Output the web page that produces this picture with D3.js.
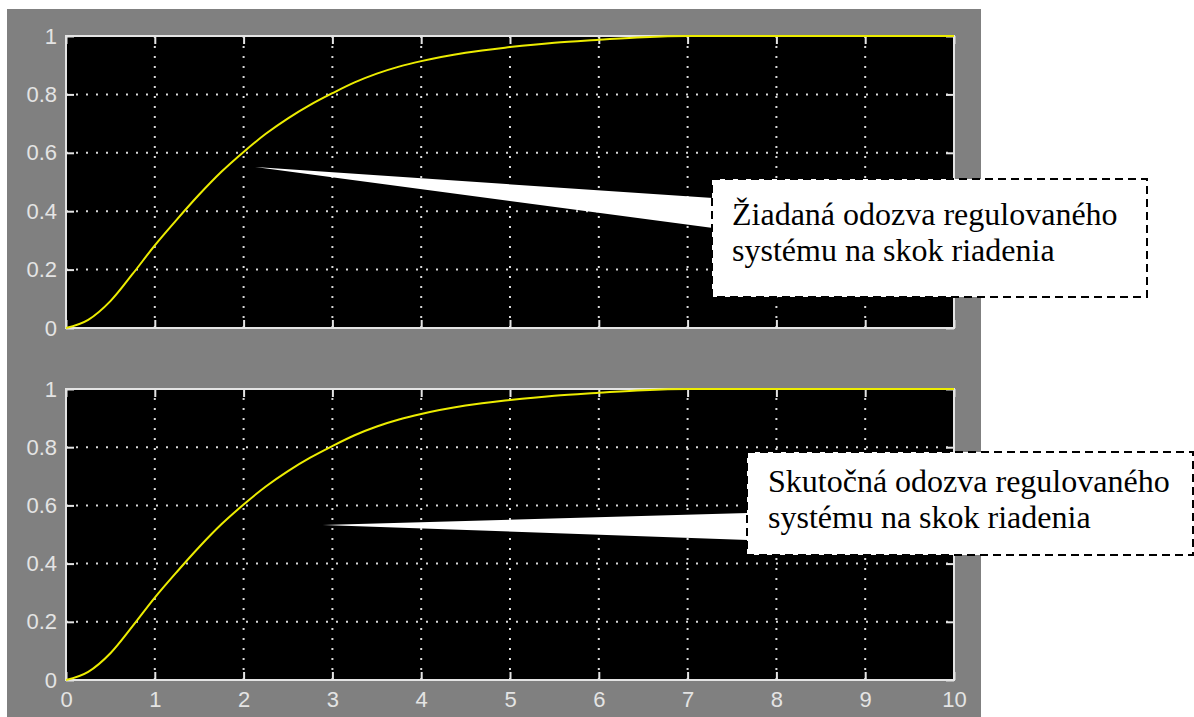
<!DOCTYPE html>
<html>
<head>
<meta charset="utf-8">
<script src="https://cdn.jsdelivr.net/npm/d3@7"></script>
<style>
  html, body { margin: 0; padding: 0; background: #ffffff; }
  svg { display: block; }
</style>
</head>
<body>
<svg id="chart" width="1194" height="717"></svg>
<script>
// Step response samples: time [s] and output value
const timeSec = [0, 0.25, 0.5, 0.75, 1, 1.25, 1.5, 1.75, 2, 2.25, 2.5, 2.75, 3, 3.25, 3.5, 3.75, 4, 4.5, 5, 5.5, 6, 6.5, 7, 8, 9, 10];
const desiredResponse = [0, 0.028, 0.092, 0.185, 0.283, 0.372, 0.457, 0.535, 0.603, 0.665, 0.718, 0.764, 0.804, 0.841, 0.871, 0.895, 0.914, 0.943, 0.962, 0.977, 0.987, 0.996, 1, 1, 1, 1];
const actualResponse  = [0, 0.028, 0.092, 0.185, 0.283, 0.372, 0.457, 0.535, 0.603, 0.665, 0.718, 0.764, 0.804, 0.841, 0.871, 0.895, 0.914, 0.943, 0.962, 0.977, 0.987, 0.996, 1, 1, 1, 1];

const xTicks = [0, 1, 2, 3, 4, 5, 6, 7, 8, 9, 10];
const xTickLabels = ["0", "1", "2", "3", "4", "5", "6", "7", "8", "9", "10"];
const yTicks = [0, 0.2, 0.4, 0.6, 0.8, 1];
const yTickLabels = ["0", "0.2", "0.4", "0.6", "0.8", "1"];

// Callout texts and the (time, value) point each pointer aims at
const desiredCallout = ["Žiadaná odozva regulovaného", "systému na skok riadenia"];
const actualCallout = ["Skutočná odozva regulovaného", "systému na skok riadenia"];
const desiredPointer = [2.13, 0.551];
const actualPointer = [2.89, 0.533];

// ---- layout ----
const svg = d3.select("#chart");
const frame = { x: 7, y: 9, w: 974, h: 708 };
const plotLeft = 66, plotRight = 954;
const panels = [
  { top: 36, bottom: 328, values: desiredResponse, showX: false,
    callout: desiredCallout, pointer: desiredPointer,
    box: { x: 712, y: 179, w: 435, h: 118 }, base: [198, 228], textX: 732, baselines: [225, 261] },
  { top: 389, bottom: 680, values: actualResponse, showX: true,
    callout: actualCallout, pointer: actualPointer,
    box: { x: 747, y: 452, w: 446, h: 103 }, base: [513, 540], textX: 768, baselines: [492, 528] }
];

const axisColor = "#e4e4e4";
const gridColor = "#d8d8d8";
const traceColor = "#ecec00";
const labelFont = "'Liberation Sans', Arial, sans-serif";

svg.append("rect")
  .attr("x", frame.x).attr("y", frame.y)
  .attr("width", frame.w).attr("height", frame.h)
  .attr("fill", "#808080");

const x = d3.scaleLinear().domain([0, 10]).range([plotLeft, plotRight]);

panels.forEach(p => {
  const y = d3.scaleLinear().domain([0, 1]).range([p.bottom, p.top]);
  const g = svg.append("g");

  // plot area
  g.append("rect")
    .attr("x", plotLeft).attr("y", p.top)
    .attr("width", plotRight - plotLeft).attr("height", p.bottom - p.top)
    .attr("fill", "#000000");

  // dotted grid
  g.append("g").selectAll("line")
    .data(xTicks.slice(1, -1)).join("line")
    .attr("x1", d => x(d)).attr("x2", d => x(d))
    .attr("y1", p.bottom).attr("y2", p.top)
    .attr("stroke", gridColor).attr("stroke-width", 2)
    .attr("stroke-dasharray", "2 8");
  g.append("g").selectAll("line")
    .data(yTicks.slice(1, -1)).join("line")
    .attr("x1", plotLeft).attr("x2", plotRight)
    .attr("y1", d => y(d)).attr("y2", d => y(d))
    .attr("stroke", gridColor).attr("stroke-width", 2)
    .attr("stroke-dasharray", "2 8");

  // inward ticks on all four sides
  const styleAxis = sel => {
    sel.select(".domain").remove();
    sel.selectAll(".tick line").attr("stroke", axisColor).attr("stroke-width", 2);
    sel.selectAll(".tick text").attr("fill", axisColor)
      .attr("font-family", labelFont).attr("font-size", 22);
  };

  const bottomAxis = d3.axisBottom(x).tickValues(xTicks)
    .tickFormat((d, i) => p.showX ? xTickLabels[i] : "")
    .tickSize(-8).tickPadding(11);
  g.append("g").attr("transform", `translate(0,${p.bottom})`).call(bottomAxis).call(styleAxis);

  const topAxis = d3.axisTop(x).tickValues(xTicks).tickFormat("").tickSize(-8);
  g.append("g").attr("transform", `translate(0,${p.top})`).call(topAxis).call(styleAxis);

  const leftAxis = d3.axisLeft(y).tickValues(yTicks)
    .tickFormat((d, i) => yTickLabels[i]).tickSize(-8).tickPadding(9);
  g.append("g").attr("transform", `translate(${plotLeft},0)`).call(leftAxis).call(styleAxis);

  const rightAxis = d3.axisRight(y).tickValues(yTicks).tickFormat("").tickSize(-8);
  g.append("g").attr("transform", `translate(${plotRight},0)`).call(rightAxis).call(styleAxis);

  // axes box
  g.append("rect")
    .attr("x", plotLeft).attr("y", p.top)
    .attr("width", plotRight - plotLeft).attr("height", p.bottom - p.top)
    .attr("fill", "none").attr("stroke", axisColor).attr("stroke-width", 2);

  // response trace
  const line = d3.line()
    .x((d, i) => x(timeSec[i]))
    .y(d => y(d))
    .curve(d3.curveMonotoneX);
  g.append("path")
    .datum(p.values)
    .attr("d", line)
    .attr("fill", "none")
    .attr("stroke", traceColor)
    .attr("stroke-width", 2);

  // callout: pointer wedge, dashed box, text
  const tip = [x(p.pointer[0]), y(p.pointer[1])];
  svg.append("polygon")
    .attr("points", [tip, [p.box.x + 1, p.base[0]], [p.box.x + 1, p.base[1]]].map(q => q.join(",")).join(" "))
    .attr("fill", "#ffffff");
  svg.append("rect")
    .attr("x", p.box.x).attr("y", p.box.y)
    .attr("width", p.box.w).attr("height", p.box.h)
    .attr("fill", "#ffffff")
    .attr("stroke", "#000000").attr("stroke-width", 2)
    .attr("stroke-dasharray", "8 5");
  svg.append("g").selectAll("text")
    .data(p.callout).join("text")
    .attr("x", p.textX)
    .attr("y", (d, i) => p.baselines[i])
    .attr("font-family", "'Liberation Serif', 'Times New Roman', serif")
    .attr("font-size", 32)
    .attr("fill", "#000000")
    .text(d => d);
});
</script>
</body>
</html>
